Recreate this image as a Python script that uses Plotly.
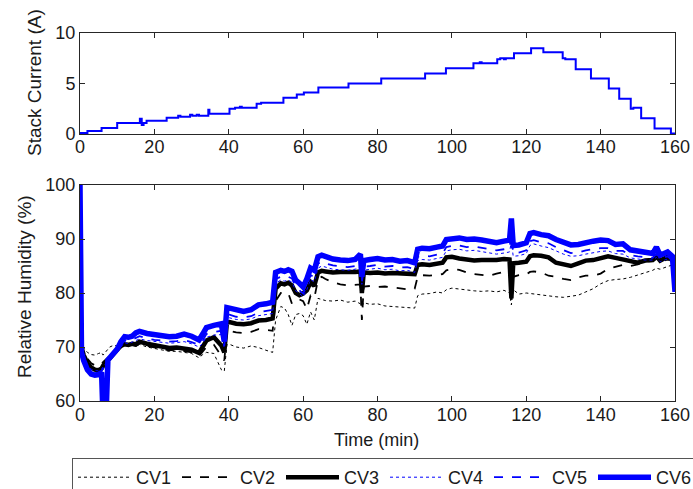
import plotly.graph_objects as go

# ---------------- data ----------------
# Stack current (step profile)
cur_t = [0, 2.0, 5.8, 10.0, 16.1, 16.6, 17.1, 17.9, 23.3, 26.4,
         27.0, 29.6, 30.2, 31.4, 32.0, 34.5, 34.8, 40.2, 41.7, 43.0,
         43.5, 47.5, 48.7, 54.7, 58.3, 60.2, 64.1, 72.2, 81.0, 92.8,
         98.4, 105.8, 107.5, 108, 112.2, 113.0, 114.0, 114.5, 116.7, 121.3,
         124.6, 129.8, 130.5, 133.3, 137.4, 142.2, 145.0, 148.1, 148.8, 150.9,
         154.5, 158.9, 160]
cur_v = [0.1, 0.3, 0.6, 1.1, 1.5, 0.9, 1.1, 1.3, 1.6, 1.8,
         1.7, 1.9, 1.8, 1.9, 1.8, 2.4, 2.0, 2.5, 2.6, 2.7,
         2.6, 3.0, 3.1, 3.6, 3.9, 4.1, 4.6, 5.0, 5.5, 6.0,
         6.5, 7.0, 7.1, 7.0, 7.4, 7.5, 7.4, 7.5, 8.0, 8.5,
         8.1, 7.5, 7.4, 6.4, 5.5, 4.5, 3.5, 2.5, 2.6, 1.55,
         0.55, 0.05, 0.05]

# Relative humidity time base (min)
rh_t = [0, 0.4, 1, 2, 3, 4, 5, 5.8, 6.2, 7.0,
        7.5, 8, 9, 10, 11, 12, 13, 14, 15, 16,
        18, 20, 22, 24, 26, 28, 30, 32, 33, 34,
        36, 38, 38.8, 39.5, 40.2, 42, 44, 46, 48, 50,
        51.8, 52.6, 54, 55, 56, 57, 58, 59, 60, 61,
        62, 63, 64, 65, 66, 68, 70, 72, 74, 75.4,
        75.8, 76.3, 78, 80, 82, 84, 86, 88, 90, 90.8,
        92, 94, 96, 97.5, 98.5, 100, 102, 104, 106, 108,
        110, 112, 114, 115.5, 116, 116.5, 118, 120, 121, 122,
        124, 126, 128, 130, 132, 134, 136, 138, 140, 142,
        144, 146, 148, 150, 152, 154, 155, 156, 158, 159.3,
        160]

cv1 = [71.0, 70.8, 69.8, 69.0, 68.6, 68.5, 68.8, 69.0, 68.5, 69.2,
       69.6, 70.0, 70.3, 70.2, 70.5, 70.6, 70.3, 70.5, 70.2, 70.5,
       70.0, 69.7, 69.5, 69.2, 69.2, 69.0, 68.8, 68.0, 68.6, 69.0,
       68.8, 65.8, 65.5, 70.4, 70.5, 70.0, 69.8, 70.2, 69.9, 69.4,
       69.0, 75.0, 77.5, 77.2, 76.0, 74.0, 76.0, 76.2, 75.8, 74.2,
       76.5, 75.0, 79.0, 78.8, 78.6, 78.5, 78.7, 78.3, 78.5, 78.0,
       77.5, 78.2, 77.9, 78.0, 77.6, 77.5, 77.4, 77.3, 77.2, 79.5,
       79.8, 79.9, 80.2, 80.0, 80.6, 80.9, 80.7, 80.5, 80.4, 80.3,
       80.4, 80.2, 80.5, 80.0, 77.8, 80.6, 79.8, 80.0, 79.9, 79.8,
       79.6, 79.4, 79.3, 79.2, 79.4, 79.6, 80.2, 80.8, 81.7, 82.3,
       82.5, 82.6, 82.9, 83.3, 83.8, 84.2, 84.6, 84.4, 84.9, 85.2,
       85.0]

cv2 = [70.8, 70.3, 69.0, 67.8, 67.0, 66.6, 66.5, 66.8, 67.2, 67.8,
       68.1, 68.4, 69.0, 69.6, 70.0, 70.3, 70.1, 70.4, 70.2, 70.6,
       70.2, 69.9, 69.7, 69.4, 69.5, 69.2, 69.0, 68.3, 69.2, 70.0,
       70.4, 68.2, 67.5, 72.8, 73.0, 72.7, 72.6, 72.8, 73.3, 73.2,
       73.0, 78.5, 80.0, 79.9, 80.0, 78.0, 78.6, 78.8, 78.5, 77.0,
       79.5, 79.0, 82.5, 83.0, 82.6, 82.0, 81.6, 81.4, 81.5, 81.6,
       75.0, 81.2, 81.3, 81.1, 81.2, 81.0, 80.9, 80.7, 80.8, 83.0,
       83.3, 83.2, 83.4, 83.5, 84.2, 84.4, 84.3, 83.8, 83.5, 83.3,
       83.2, 83.6, 83.9, 83.8, 78.1, 83.0, 83.3, 83.4, 83.9, 84.0,
       83.8, 83.2, 83.0, 82.6, 82.4, 82.9, 83.2, 83.2, 83.6, 84.5,
       84.9, 85.2, 85.0, 85.3, 85.8, 85.9, 86.3, 85.8, 86.2, 86.0,
       85.8]

cv3 = [70.5, 70.0, 68.5, 67.0, 66.2, 65.8, 65.7, 66.0, 66.5, 67.2,
       67.6, 68.0, 68.8, 69.5, 70.2, 70.5, 70.4, 70.6, 70.5, 71.0,
       70.6, 70.3, 70.1, 69.8, 69.9, 69.7, 69.5, 68.9, 70.0, 71.2,
       71.8, 70.3, 69.0, 74.5, 74.6, 74.3, 74.2, 74.4, 74.9, 75.0,
       75.3, 80.8, 81.8, 81.6, 81.9, 81.4, 80.0, 79.6, 79.9, 80.5,
       82.0, 81.3, 83.8, 84.1, 84.0, 83.8, 83.9, 83.8, 83.9, 84.0,
       80.0, 83.8, 83.7, 83.8, 83.6, 83.7, 83.6, 83.7, 83.5, 85.2,
       85.3, 85.2, 85.4, 85.6, 86.6, 86.7, 86.4, 86.1, 86.0, 86.1,
       86.0, 86.1, 86.3, 86.2, 79.0, 85.5, 85.6, 85.8, 86.8, 87.0,
       86.9, 86.6, 85.6, 85.2, 85.0, 85.5, 86.0, 86.1, 86.4, 86.8,
       86.5, 86.2, 85.8, 85.6, 86.0, 86.1, 86.8, 86.0, 86.7, 86.3,
       86.0]

cv4 = [70.0, 68.8, 67.8, 66.5, 65.9, 65.6, 65.6, 65.9, 66.3, 67.0,
       67.5, 67.9, 68.4, 69.2, 70.2, 70.8, 70.6, 70.9, 71.2, 71.5,
       71.2, 71.0, 70.9, 70.7, 70.8, 71.0, 70.6, 70.0, 70.7, 71.8,
       72.2, 72.3, 69.8, 75.3, 75.4, 75.1, 75.0, 75.2, 75.8, 76.0,
       76.2, 81.8, 82.4, 82.2, 82.4, 82.0, 80.4, 79.9, 79.3, 80.6,
       82.5, 82.1, 84.6, 85.0, 84.8, 84.4, 84.3, 84.2, 84.4, 84.9,
       81.6, 84.2, 84.4, 84.6, 84.3, 84.4, 84.1, 84.2, 83.8, 86.0,
       86.2, 86.1, 86.4, 86.6, 87.8, 88.0, 88.1, 87.8, 87.9, 87.7,
       87.5, 87.2, 87.4, 87.6, 89.5, 86.8, 86.9, 87.3, 88.8, 89.1,
       88.7, 88.4, 87.8, 87.2, 86.8, 86.9, 87.2, 87.5, 87.7, 87.8,
       87.3, 87.2, 86.5, 86.3, 86.1, 86.1, 86.6, 85.8, 86.3, 85.6,
       85.4]

cv5 = [70.5, 69.0, 67.8, 66.2, 65.5, 65.2, 65.2, 65.6, 66.0, 66.8,
       67.4, 67.9, 68.5, 69.4, 70.5, 71.2, 71.0, 71.3, 71.6, 72.0,
       71.6, 71.3, 71.2, 71.0, 71.1, 71.3, 70.9, 70.4, 71.2, 72.4,
       72.8, 73.0, 70.2, 76.0, 76.0, 75.6, 75.5, 75.7, 76.4, 76.6,
       76.9, 82.6, 83.0, 82.8, 83.0, 82.7, 81.1, 80.5, 79.9, 81.4,
       83.3, 82.9, 85.4, 85.8, 85.5, 85.1, 84.9, 84.8, 85.0, 85.6,
       82.0, 84.9, 85.0, 85.2, 84.9, 85.0, 84.7, 84.8, 84.4, 86.7,
       86.9, 86.8, 87.1, 87.3, 88.5, 88.7, 88.8, 88.5, 88.6, 88.4,
       88.2, 87.9, 88.1, 88.3, 91.0, 87.4, 87.5, 87.9, 89.6, 89.8,
       89.4, 89.2, 88.5, 88.0, 87.4, 87.5, 87.9, 88.1, 88.3, 88.3,
       87.8, 87.8, 87.0, 86.8, 86.6, 86.5, 87.2, 86.3, 86.8, 86.0,
       85.8]

cv6 = [100.0, 69.0, 67.5, 65.8, 65.0, 64.8, 64.9, 65.3, 57.0, 57.0,
       67.6, 68.0, 68.6, 69.6, 71.0, 71.9, 71.8, 72.0, 72.6, 72.9,
       72.5, 72.3, 72.1, 71.9, 72.0, 72.4, 72.0, 71.3, 72.4, 73.6,
       74.0, 74.3, 71.0, 77.3, 77.2, 76.8, 76.6, 76.9, 77.8, 78.0,
       78.3, 83.8, 84.2, 84.0, 84.3, 84.0, 82.4, 81.8, 81.1, 82.6,
       84.6, 84.2, 86.7, 87.0, 86.7, 86.3, 86.1, 86.0, 86.2, 87.2,
       83.0, 86.0, 86.2, 86.4, 86.1, 86.2, 85.9, 86.0, 85.6, 88.1,
       88.3, 88.2, 88.5, 88.7, 89.9, 90.1, 90.2, 89.9, 90.0, 89.8,
       89.6, 89.3, 89.6, 89.8, 93.8, 88.8, 88.9, 89.3, 91.0, 91.2,
       90.8, 90.6, 89.9, 89.5, 88.9, 89.0, 89.4, 89.6, 89.8, 89.7,
       89.0, 89.1, 88.0, 87.7, 87.4, 87.3, 88.5, 87.0, 87.6, 86.8,
       80.2]

series_names = ["CV1", "CV2", "CV3", "CV4", "CV5", "CV6"]
x_ticks = [0, 20, 40, 60, 80, 100, 120, 140, 160]
cur_ticks = [0, 5, 10]
rh_ticks = [60, 70, 80, 90, 100]

# ---------------- figure ----------------
W, H = 693, 489
BLUE = "#0000FF"
BLACK = "#000000"
AX = "#262626"
FONT = "Liberation Sans, Arial, sans-serif"

styles = [
    dict(color=BLACK, dash="dot", width=1),
    dict(color=BLACK, dash="dash", width=1.8),
    dict(color=BLACK, dash="solid", width=4.5),
    dict(color=BLUE, dash="dot", width=1),
    dict(color=BLUE, dash="dash", width=1.8),
    dict(color=BLUE, dash="solid", width=5.5),
]

fig = go.Figure()
fig.add_trace(go.Scatter(x=cur_t, y=cur_v, mode="lines",
                         line=dict(color=BLUE, width=2, shape="hv"),
                         xaxis="x", yaxis="y", showlegend=False))
for name, vals, st in zip(series_names, [cv1, cv2, cv3, cv4, cv5, cv6], styles):
    fig.add_trace(go.Scatter(x=rh_t, y=vals, mode="lines", name=name,
                             line=st, xaxis="x2", yaxis="y2"))

def px_x(p):
    return p / W

def px_y(p):
    return 1 - p / H

axis_common = dict(showline=True, linecolor=AX, linewidth=1, mirror="allticks",
                   ticks="inside", ticklen=5, tickcolor=AX, tickwidth=1,
                   showgrid=False, zeroline=False, automargin=False,
                   tickfont=dict(family=FONT, size=18, color="#1a1a1a"))

fig.update_layout(
    width=W, height=H, margin=dict(l=0, r=0, t=0, b=0, autoexpand=False),
    paper_bgcolor="white", plot_bgcolor="white",
    font=dict(family=FONT, size=18, color="#1a1a1a"),
    xaxis=dict(domain=[px_x(80), px_x(675)], range=[0, 160], tickvals=x_ticks,
               anchor="y", ticklabelstandoff=-4, **axis_common),
    yaxis=dict(domain=[px_y(134), px_y(33)], range=[0, 10], tickvals=cur_ticks,
               anchor="x", **axis_common),
    xaxis2=dict(domain=[px_x(80), px_x(675)], range=[0, 160], tickvals=x_ticks,
                anchor="y2", ticklabelstandoff=-3, **axis_common),
    yaxis2=dict(domain=[px_y(401), px_y(185)], range=[60, 100], tickvals=rh_ticks,
                anchor="x2", **axis_common),
    legend=dict(orientation="h", x=px_x(72), y=px_y(458), xanchor="left", yanchor="top",
                bordercolor="#555555", borderwidth=1, bgcolor="white",
                font=dict(family=FONT, size=18, color="#1a1a1a"),
                itemwidth=53, entrywidth=36, entrywidthmode="pixels",
                tracegroupgap=0),
    annotations=[
        dict(text="Stack Current (A)", x=px_x(34), y=px_y(83), xref="paper", yref="paper",
             showarrow=False, textangle=-90, xanchor="center", yanchor="middle",
             font=dict(family=FONT, size=19, color="#1a1a1a")),
        dict(text="Relative Humidity (%)", x=px_x(24), y=px_y(287), xref="paper", yref="paper",
             showarrow=False, textangle=-90, xanchor="center", yanchor="middle",
             font=dict(family=FONT, size=19, color="#1a1a1a")),
        dict(text="Time (min)", x=px_x(376), y=px_y(440), xref="paper", yref="paper",
             showarrow=False, xanchor="center", yanchor="middle",
             font=dict(family=FONT, size=18, color="#1a1a1a")),
    ],
)

fig.write_html("out.html")
